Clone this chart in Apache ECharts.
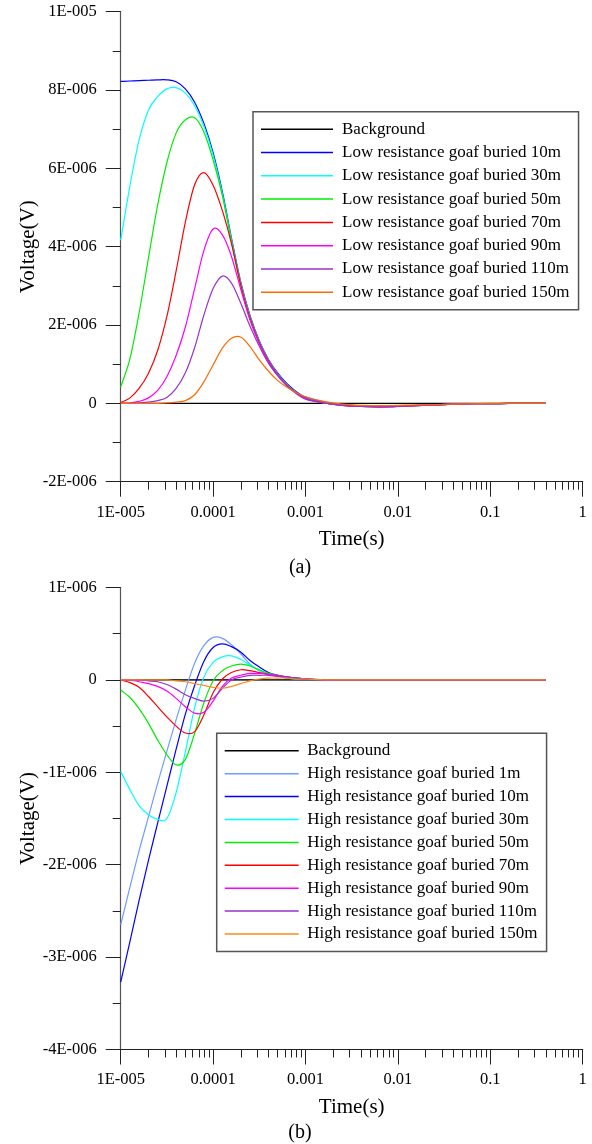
<!DOCTYPE html>
<html>
<head>
<meta charset="utf-8">
<script src="https://cdn.jsdelivr.net/npm/echarts@6/dist/echarts.min.js"></script>
<style>
  html, body { margin: 0; padding: 0; background: #fff; }
  #chart { width: 592px; height: 1144px; }
</style>
</head>
<body>
<div id="chart"></div>
<script>
// Sampling times (s): ten per decade up to 1 ms, five per decade after that
const times = [1e-5, 1.26e-5, 1.58e-5, 2e-5, 2.51e-5, 3.16e-5, 3.98e-5, 5.01e-5, 6.31e-5, 7.94e-5,
  1e-4, 1.26e-4, 1.58e-4, 2e-4, 2.51e-4, 3.16e-4, 3.98e-4, 5.01e-4, 6.31e-4, 7.94e-4,
  1e-3, 1.58e-3, 2.51e-3, 3.98e-3, 6.31e-3, 1e-2, 1.58e-2, 2.51e-2, 3.98e-2, 6.31e-2, 0.1, 0.158, 0.251, 0.398];

// Background response (flat zero)
const bgTimes = [1e-5, 0.398];
const bgValues = [0, 0];

// (a) Low resistance goaf, voltage in microvolts
const low10 = [8.22, 8.23, 8.24, 8.25, 8.26, 8.26, 8.21, 8.03, 7.69, 7.15,
  6.40, 5.40, 4.22, 3.08, 2.24, 1.60, 1.12, 0.77, 0.50, 0.30,
  0.16, 0.03, -0.04, -0.07, -0.08, -0.07, -0.05, -0.04, -0.02, -0.01, -0.01, 0, 0, 0];
const low30 = [4.17, 5.56, 6.72, 7.49, 7.83, 8.03, 8.06, 7.92, 7.60, 7.08,
  6.34, 5.35, 4.18, 3.05, 2.21, 1.58, 1.10, 0.75, 0.48, 0.28,
  0.14, 0.02, -0.05, -0.08, -0.09, -0.08, -0.06, -0.04, -0.02, -0.01, -0.01, 0, 0, 0];
const low50 = [0.42, 1.14, 2.30, 3.72, 5.06, 6.15, 6.90, 7.24, 7.29, 6.93,
  6.22, 5.30, 4.14, 3.02, 2.19, 1.56, 1.09, 0.74, 0.47, 0.27,
  0.13, 0.01, -0.05, -0.08, -0.09, -0.08, -0.06, -0.04, -0.02, -0.01, -0.01, 0, 0, 0];
const low70 = [0.02, 0.14, 0.38, 0.77, 1.35, 2.22, 3.38, 4.63, 5.58, 5.89,
  5.57, 4.92, 4.08, 3.00, 2.17, 1.55, 1.08, 0.73, 0.46, 0.27,
  0.13, 0.01, -0.05, -0.08, -0.09, -0.08, -0.06, -0.04, -0.02, -0.01, -0.01, 0, 0, 0];
const low90 = [0, 0.01, 0.05, 0.14, 0.33, 0.68, 1.22, 1.95, 2.93, 3.90,
  4.45, 4.30, 3.75, 2.90, 2.12, 1.52, 1.06, 0.72, 0.45, 0.26,
  0.12, 0.01, -0.05, -0.08, -0.09, -0.08, -0.06, -0.04, -0.02, -0.01, -0.01, 0, 0, 0];
const low110 = [0, 0, 0.01, 0.03, 0.07, 0.15, 0.38, 0.78, 1.42, 2.25,
  2.93, 3.25, 3.07, 2.55, 1.97, 1.46, 1.02, 0.70, 0.44, 0.25,
  0.11, 0.01, -0.05, -0.08, -0.09, -0.08, -0.06, -0.04, -0.02, -0.01, -0.01, 0, 0, 0];
const low150 = [0, 0, 0, 0, 0, 0.01, 0.03, 0.07, 0.22, 0.55,
  0.98, 1.41, 1.66, 1.69, 1.45, 1.11, 0.82, 0.58, 0.41, 0.27,
  0.17, 0.05, -0.02, -0.05, -0.06, -0.05, -0.04, -0.03, -0.02, -0.01, 0, 0, 0, 0];

// (b) High resistance goaf, voltage in microvolts
const high1 = [-2.65, -2.24, -1.85, -1.48, -1.12, -0.77, -0.43, -0.11, 0.18, 0.37,
  0.46, 0.45, 0.38, 0.28, 0.17, 0.10, 0.06, 0.04, 0.02, 0.01,
  0.01, 0, 0, 0, 0, 0, 0, 0, 0, 0, 0, 0, 0, 0];
const high10 = [-3.27, -2.83, -2.39, -1.95, -1.55, -1.15, -0.75, -0.37, -0.06, 0.20,
  0.35, 0.39, 0.36, 0.30, 0.21, 0.14, 0.08, 0.05, 0.03, 0.02,
  0.01, 0, 0, 0, 0, 0, 0, 0, 0, 0, 0, 0, 0, 0];
const high30 = [-0.99, -1.19, -1.36, -1.46, -1.51, -1.50, -1.22, -0.78, -0.30, 0.03,
  0.19, 0.25, 0.26, 0.22, 0.16, 0.10, 0.06, 0.04, 0.02, 0.01,
  0.01, 0, 0, 0, 0, 0, 0, 0, 0, 0, 0, 0, 0, 0];
const high50 = [-0.11, -0.19, -0.31, -0.47, -0.65, -0.81, -0.92, -0.86, -0.58, -0.25,
  -0.01, 0.10, 0.15, 0.17, 0.15, 0.11, 0.07, 0.05, 0.03, 0.02,
  0.01, 0, 0, 0, 0, 0, 0, 0, 0, 0, 0, 0, 0, 0];
const high70 = [0, -0.03, -0.08, -0.18, -0.29, -0.40, -0.50, -0.575, -0.56, -0.38,
  -0.14, 0.01, 0.08, 0.11, 0.10, 0.08, 0.06, 0.04, 0.03, 0.02,
  0.01, 0, 0, 0, 0, 0, 0, 0, 0, 0, 0, 0, 0, 0];
const high90 = [0, 0, -0.02, -0.04, -0.07, -0.12, -0.20, -0.29, -0.36, -0.35,
  -0.23, -0.07, 0.02, 0.05, 0.07, 0.07, 0.06, 0.05, 0.03, 0.02,
  0.01, 0, 0, 0, 0, 0, 0, 0, 0, 0, 0, 0, 0, 0];
const high110 = [0, 0, 0, -0.01, -0.02, -0.05, -0.10, -0.16, -0.20, -0.23,
  -0.20, -0.09, 0.00, 0.03, 0.05, 0.05, 0.05, 0.04, 0.03, 0.02,
  0.01, 0, 0, 0, 0, 0, 0, 0, 0, 0, 0, 0, 0, 0];
const high150 = [0, 0, 0, 0, 0, 0, -0.01, -0.02, -0.04, -0.06,
  -0.08, -0.09, -0.07, -0.04, -0.01, 0.01, 0.02, 0.02, 0.02, 0.01,
  0.01, 0, 0, 0, 0, 0, 0, 0, 0, 0, 0, 0, 0, 0];

// Series names and colours
const lowNames = ['Background', 'Low resistance goaf buried 10m', 'Low resistance goaf buried 30m',
  'Low resistance goaf buried 50m', 'Low resistance goaf buried 70m', 'Low resistance goaf buried 90m',
  'Low resistance goaf buried 110m', 'Low resistance goaf buried 150m'];
const lowColors = ['#000000', '#0000ff', '#00ffff', '#00ee00', '#ff0000', '#ff00ff', '#9932cc', '#ff6a00'];
const highNames = ['Background', 'High resistance goaf buried 1m', 'High resistance goaf buried 10m',
  'High resistance goaf buried 30m', 'High resistance goaf buried 50m', 'High resistance goaf buried 70m',
  'High resistance goaf buried 90m', 'High resistance goaf buried 110m', 'High resistance goaf buried 150m'];
const highColors = ['#333333', '#6f9cff', '#0000ff', '#00ffff', '#00ee00', '#ff0000', '#ff00ff', '#9932cc', '#ff8a1a'];

// Axis tick positions
const timeMajorTicks = [1e-5, 1e-4, 1e-3, 1e-2, 1e-1, 1];
const timeMinorTicks = [];
for (let e = -5; e < 0; e++) {
  for (let k = 2; k <= 9; k++) timeMinorTicks.push(k * Math.pow(10, e));
}

const FONT = 'Liberation Serif';

function timeLabel(v) {
  const e = Math.round(Math.log10(v));
  if (e <= -5) return '1E-' + String(-e).padStart(3, '0');
  return String(Number(Math.pow(10, e).toFixed(Math.max(0, -e))));
}

function voltLabel(v) {
  if (Math.abs(v) < 1e-12) return '0';
  const e = Math.floor(Math.log10(Math.abs(v)) + 1e-9);
  const m = Math.round(v / Math.pow(10, e));
  return m + 'E' + (e < 0 ? '-' : '+') + String(Math.abs(e)).padStart(3, '0');
}

function toPairs(ts, vs) {
  return ts.map((t, i) => [t, vs[i] * 1e-6]);
}

// Smooth curve through pixel points (cubic Hermite, finite-difference tangents)
function curvePath(p) {
  const n = p.length;
  const slope = p.map((pt, i) => {
    const a = p[Math.max(0, i - 1)];
    const b = p[Math.min(n - 1, i + 1)];
    return (b[1] - a[1]) / (b[0] - a[0]);
  });
  let d = 'M' + p[0][0] + ',' + p[0][1];
  for (let i = 0; i < n - 1; i++) {
    const h = p[i + 1][0] - p[i][0];
    d += ' C' + (p[i][0] + h / 3) + ',' + (p[i][1] + slope[i] * h / 3) + ' ' +
      (p[i + 1][0] - h / 3) + ',' + (p[i + 1][1] - slope[i + 1] * h / 3) + ' ' +
      p[i + 1][0] + ',' + p[i + 1][1];
  }
  return d;
}

function curveSeries(name, color, ts, vs, gridIdx, width) {
  const data = toPairs(ts, vs);
  return {
    type: 'custom',
    name: name,
    coordinateSystem: 'cartesian2d',
    xAxisIndex: gridIdx * 2,
    yAxisIndex: gridIdx,
    data: data,
    encode: { x: 0, y: 1 },
    clip: true,
    silent: true,
    itemStyle: { color: color },
    renderItem: function (params, api) {
      if (params.dataIndex !== 0) return null;
      const pts = data.map(d => api.coord(d));
      return {
        type: 'path',
        shape: { pathData: curvePath(pts) },
        style: { stroke: color, lineWidth: width || 1.2, fill: 'none' },
        silent: true
      };
    }
  };
}

const tickLine = { color: '#222', width: 1 };
const labelStyle = { fontFamily: FONT, fontSize: 16.5, color: '#000' };
const nameStyle = { fontFamily: FONT, fontSize: 21, color: '#000' };

function timeAxes(gridIdx) {
  return [
    {
      gridIndex: gridIdx, type: 'log', logBase: 10, min: 1e-5, max: 1, position: 'bottom',
      axisLine: { show: true, onZero: false, lineStyle: { color: '#222', width: 1.2 } },
      axisTick: { show: true, length: 15, customValues: timeMajorTicks, lineStyle: tickLine },
      axisLabel: { show: true, customValues: timeMajorTicks, formatter: timeLabel, margin: 22, ...labelStyle },
      splitLine: { show: false },
      name: 'Time(s)', nameLocation: 'middle', nameGap: 47, nameMoveOverlap: false, nameTextStyle: nameStyle
    },
    {
      gridIndex: gridIdx, type: 'log', logBase: 10, min: 1e-5, max: 1, position: 'bottom',
      axisLine: { show: false, onZero: false },
      axisTick: { show: true, length: 8, customValues: timeMinorTicks, lineStyle: tickLine },
      axisLabel: { show: false },
      splitLine: { show: false }
    }
  ];
}

function voltAxis(gridIdx, min, max, interval) {
  return {
    gridIndex: gridIdx, type: 'value', min: min, max: max, interval: interval, position: 'left',
    axisLine: { show: true, onZero: false, lineStyle: { color: '#555', width: 1.2 } },
    axisTick: { show: true, length: 15, lineStyle: tickLine },
    minorTick: { show: true, splitNumber: 2, length: 8, lineStyle: tickLine },
    axisLabel: { formatter: voltLabel, margin: 24, ...labelStyle },
    splitLine: { show: false },
    minorSplitLine: { show: false },
    name: 'Voltage(V)', nameLocation: 'middle', nameGap: 82, nameMoveOverlap: false, nameTextStyle: nameStyle
  };
}

function legendBox(names, left, top, itemWidth, itemGap, textPad) {
  return {
    data: names,
    orient: 'vertical',
    left: left,
    top: top,
    padding: [9, 9, 9, 8],
    itemWidth: itemWidth,
    itemHeight: 1.5,
    itemGap: itemGap,
    icon: 'rect',
    selectedMode: false,
    backgroundColor: '#fff',
    borderColor: '#555',
    borderWidth: 1.5,
    borderRadius: 0,
    textStyle: { fontFamily: FONT, fontSize: 17, lineHeight: 17, color: '#000', padding: [0, 0, 0, textPad] }
  };
}

const lowValues = [low10, low30, low50, low70, low90, low110, low150];
const highValues = [high1, high10, high30, high50, high70, high90, high110, high150];

const series = [];
series.push(curveSeries(lowNames[0], lowColors[0], bgTimes, bgValues, 0, 1.2));
lowValues.forEach((vs, i) => series.push(curveSeries(lowNames[i + 1], lowColors[i + 1], times, vs, 0)));
series.push(curveSeries(highNames[0], highColors[0], bgTimes, bgValues, 1, 1.6));
highValues.forEach((vs, i) => series.push(curveSeries(highNames[i + 1], highColors[i + 1], times, vs, 1)));

const chart = echarts.init(document.getElementById('chart'), null, { renderer: 'canvas' });
chart.setOption({
  animation: false,
  backgroundColor: '#fff',
  textStyle: { fontFamily: FONT },
  grid: [
    { left: 120.7, top: 11.7, width: 462, height: 470, outerBoundsMode: 'none', containLabel: false },
    { left: 120.7, top: 587.5, width: 462, height: 462, outerBoundsMode: 'none', containLabel: false }
  ],
  xAxis: [...timeAxes(0), ...timeAxes(1)],
  yAxis: [voltAxis(0, -2e-6, 1e-5, 2e-6), voltAxis(1, -4e-6, 1e-6, 1e-6)],
  legend: [
    legendBox(lowNames, 253, 111.7, 72, 6.3, 4),
    legendBox(highNames, 216.7, 733.3, 74, 5.9, 3.5)
  ],
  graphic: [
    { type: 'text', x: 300, y: 568, silent: true,
      style: { text: '(a)', fill: '#000', font: '20px "Liberation Serif"', align: 'center', verticalAlign: 'middle', textAlign: 'center', textVerticalAlign: 'middle' } },
    { type: 'text', x: 300, y: 1133, silent: true,
      style: { text: '(b)', fill: '#000', font: '20px "Liberation Serif"', align: 'center', verticalAlign: 'middle', textAlign: 'center', textVerticalAlign: 'middle' } }
  ],
  series: series
});
</script>
</body>
</html>
